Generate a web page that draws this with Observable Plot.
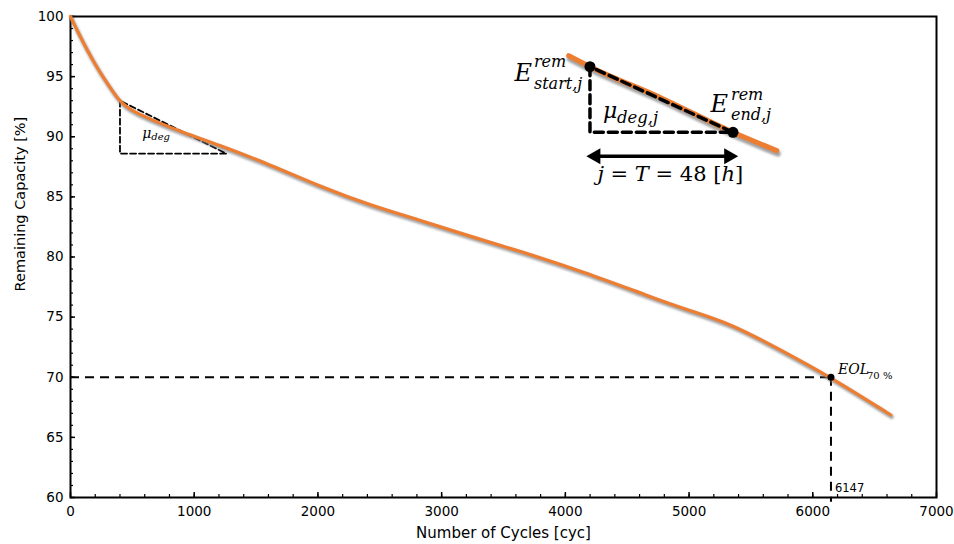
<!DOCTYPE html>
<html><head><meta charset="utf-8">
<script src="https://cdn.jsdelivr.net/npm/d3@7"></script>
<script src="https://cdn.jsdelivr.net/npm/@observablehq/plot@0.6"></script>
<style>body{margin:0;background:#fff}</style>
</head><body><div id="chart"></div>
<script>
// Main degradation curve
const cycles = [0, 60, 130, 200, 270, 340, 396, 450, 520, 647, 914, 1186, 1620, 2022, 2426, 2830, 3234, 3612, 4151, 4690, 4986, 5337, 5741, 6147, 6631];
const capacity = [100, 98.7, 97.3, 96.0, 94.85, 93.8, 93.0, 92.5, 92.05, 91.45, 90.33, 89.38, 87.65, 85.85, 84.29, 83.05, 81.7, 80.56, 78.76, 76.68, 75.6, 74.47, 72.26, 70.0, 66.86];

// Axis ticks
const xTicks = [0, 1000, 2000, 3000, 4000, 5000, 6000, 7000];
const xMinorTicks = d3.range(0, 7001, 200);
const yTicks = [60, 65, 70, 75, 80, 85, 90, 95, 100];
const yMinorTicks = d3.range(60, 101, 1);

// End-of-life marker
const eolCycles = 6147;
const eolCapacity = 70;
const eolLabel = "EOL";
const eolSub = "70 %";

// mu_deg triangle on main curve
const muDegCycles = [400, 400, 1260, 400];
const muDegCapacity = [93.0, 88.6, 88.6, 93.0];
const muDegLabelPos = [580, 89.9];

// Inset illustration (drawn in data space)
const insetCurveCycles = [4027, 4199, 4771, 5355, 5709];
const insetCurveCapacity = [96.74, 95.83, 93.25, 90.37, 88.85];
const insetStart = [4199, 95.83];
const insetEnd = [5355, 90.37];
const insetArrow = [4205, 5362, 88.38];
const insetCaptionPos = [4848, 86.28];
const insetCaption = "*j* = *T* = 48 [*h*]";

const xLabel = "Number of Cycles [cyc]";
const yLabel = "Remaining Capacity [%]";
const yLabelCenter = 84.4;

const orange = "#ED7D31";
const shadow = "#7a7a7b";
const serif = "'DejaVu Serif', serif";

const curve = cycles.map((c, i) => ({c, v: capacity[i]}));
const inset = insetCurveCycles.map((c, i) => ({c, v: insetCurveCapacity[i]}));
const muTri = muDegCycles.map((c, i) => ({c, v: muDegCapacity[i]}));
const insetTri = [
  {c: insetStart[0], v: insetStart[1]},
  {c: insetStart[0], v: insetEnd[1]},
  {c: insetEnd[0], v: insetEnd[1]},
  {c: insetStart[0], v: insetStart[1]}
];
const T = (x, y, text, o) => Plot.text([{x, y, text}], {x: "x", y: "y", text: "text", lineAnchor: "bottom", ...o});

const svg = Plot.plot({
  width: 954,
  height: 544,
  marginLeft: 70,
  marginRight: 18,
  marginTop: 16,
  marginBottom: 47,
  style: {fontFamily: "'DejaVu Sans', sans-serif", fontSize: "13.5px", color: "black", background: "white"},
  x: {domain: [0, 7000]},
  y: {domain: [60, 100]},
  marks: [
    // axes (ticks inward)
    Plot.axisX({ticks: xMinorTicks, tickSize: -3, tickFormat: () => "", label: null, strokeWidth: 1.2}),
    Plot.axisX({ticks: xTicks, tickSize: -5, tickPadding: 14, tickFormat: d3.format("d"), label: null, strokeWidth: 1.5}),
    Plot.axisY({ticks: yMinorTicks, tickSize: -3, tickFormat: () => "", label: null, strokeWidth: 1.2}),
    Plot.axisY({ticks: yTicks, tickSize: -5, tickPadding: 12, tickFormat: d3.format("d"), label: null, strokeWidth: 1.5}),
    Plot.frame({stroke: "black", strokeWidth: 2}),
    // axis titles
    Plot.text([xLabel], {frameAnchor: "bottom", dy: 40.5, lineAnchor: "bottom", fontSize: 15}),
    T(0, yLabelCenter, yLabel, {rotate: -90, dx: -46, textAnchor: "middle", lineAnchor: "bottom", fontSize: 14.5}),
    // EOL dashed guides
    Plot.ruleY([eolCapacity], {x1: 0, x2: eolCycles, stroke: "black", strokeWidth: 2, strokeDasharray: "9,6"}),
    Plot.ruleX([eolCycles], {y1: eolCapacity, y2: 59.6, stroke: "black", strokeWidth: 2, strokeDasharray: "9,6"}),
    // mu_deg triangle
    Plot.line(muTri, {x: "c", y: "v", stroke: "black", strokeWidth: 1.8, strokeDasharray: "6,3"}),
    // main curve with shadow
    Plot.line(curve, {x: "c", y: "v", curve: "basis", stroke: shadow, strokeWidth: 4, strokeOpacity: 0.7, dx: 1, dy: 2}),
    Plot.line(curve, {x: "c", y: "v", curve: "basis", stroke: orange, strokeWidth: 3.2}),
    Plot.dot([{c: eolCycles, v: eolCapacity}], {x: "c", y: "v", r: 3.5, fill: "black"}),
    // mu_deg label
    T(muDegLabelPos[0], muDegLabelPos[1], "μ", {fontFamily: serif, fontStyle: "italic", fontSize: 14, textAnchor: "start"}),
    T(muDegLabelPos[0], muDegLabelPos[1], "deg", {fontFamily: serif, fontStyle: "italic", fontSize: 10, textAnchor: "start", dx: 9, dy: 2}),
    // EOL labels
    T(eolCycles, eolCapacity, eolLabel, {fontFamily: serif, fontStyle: "italic", fontSize: 14, textAnchor: "start", dx: 7, dy: -3}),
    T(eolCycles, eolCapacity, eolSub, {fontFamily: serif, fontSize: 10, textAnchor: "start", dx: 36, dy: 2}),
    T(eolCycles, 60, String(eolCycles), {fontSize: 11.5, textAnchor: "start", dx: 4, dy: -5.5}),
    // inset
    Plot.line(inset, {x: "c", y: "v", curve: "monotone-x", stroke: shadow, strokeWidth: 6, strokeOpacity: 0.7, dx: 1, dy: 3}),
    Plot.line(inset, {x: "c", y: "v", curve: "monotone-x", stroke: orange, strokeWidth: 5}),
    Plot.line(insetTri, {x: "c", y: "v", stroke: "black", strokeWidth: 3.5, strokeDasharray: "9,5"}),
    Plot.dot([{c: insetStart[0], v: insetStart[1]}, {c: insetEnd[0], v: insetEnd[1]}], {x: "c", y: "v", r: 5.5, fill: "black"}),
    Plot.link([{a: insetArrow[0], b: insetArrow[1], y: insetArrow[2]}], {x1: "a", x2: "b", y1: "y", y2: "y", stroke: "black", strokeWidth: 3.5}),
    Plot.dot([{c: insetArrow[0], v: insetArrow[2]}], {x: "c", y: "v", symbol: "triangle", rotate: -90, r: 6, fill: "black", dx: 5}),
    Plot.dot([{c: insetArrow[1], v: insetArrow[2]}], {x: "c", y: "v", symbol: "triangle", rotate: 90, r: 6, fill: "black", dx: -5}),
    T(insetCaptionPos[0], insetCaptionPos[1], insetCaption, {fontFamily: serif, fontSize: 21, textAnchor: "middle"}),
    // E_start
    T(insetStart[0], insetStart[1], "E", {fontFamily: serif, fontStyle: "italic", fontSize: 24, textAnchor: "end", dx: -58, dy: 14}),
    T(insetStart[0], insetStart[1], "rem", {fontFamily: serif, fontStyle: "italic", fontSize: 16, textAnchor: "start", dx: -56, dy: 0}),
    T(insetStart[0], insetStart[1], "start,j", {fontFamily: serif, fontStyle: "italic", fontSize: 16, textAnchor: "start", dx: -56, dy: 22}),
    // mu_deg,j
    T(insetStart[0], insetStart[1], "μ", {fontFamily: serif, fontStyle: "italic", fontSize: 22, textAnchor: "start", dx: 13, dy: 51}),
    T(insetStart[0], insetStart[1], "deg,j", {fontFamily: serif, fontStyle: "italic", fontSize: 16.5, textAnchor: "start", dx: 27, dy: 56}),
    // E_end
    T(insetEnd[0], insetEnd[1], "E", {fontFamily: serif, fontStyle: "italic", fontSize: 24, textAnchor: "end", dx: -5, dy: -20}),
    T(insetEnd[0], insetEnd[1], "rem", {fontFamily: serif, fontStyle: "italic", fontSize: 16, textAnchor: "start", dx: -2, dy: -32}),
    T(insetEnd[0], insetEnd[1], "end,j", {fontFamily: serif, fontStyle: "italic", fontSize: 16, textAnchor: "start", dx: -2, dy: -12})
  ]
});

// soft blur for the shadow lines
const s = d3.select(svg);
s.insert("defs", ":first-child").html('<filter id="soft" x="-5%" y="-20%" width="110%" height="140%"><feGaussianBlur stdDeviation="1.3"/></filter>');
s.selectAll(`g[stroke="${shadow}"]`).attr("filter", "url(#soft)");
// italic markup (*...*) in text
s.selectAll("text").each(function () {
  const t = this.textContent;
  if (!t.includes("*")) return;
  const sel = d3.select(this);
  sel.text(null);
  t.split("*").forEach((p, i) => { if (p) sel.append("tspan").attr("font-style", i % 2 ? "italic" : "normal").text(p); });
});
document.getElementById("chart").append(svg);
</script></body></html>
